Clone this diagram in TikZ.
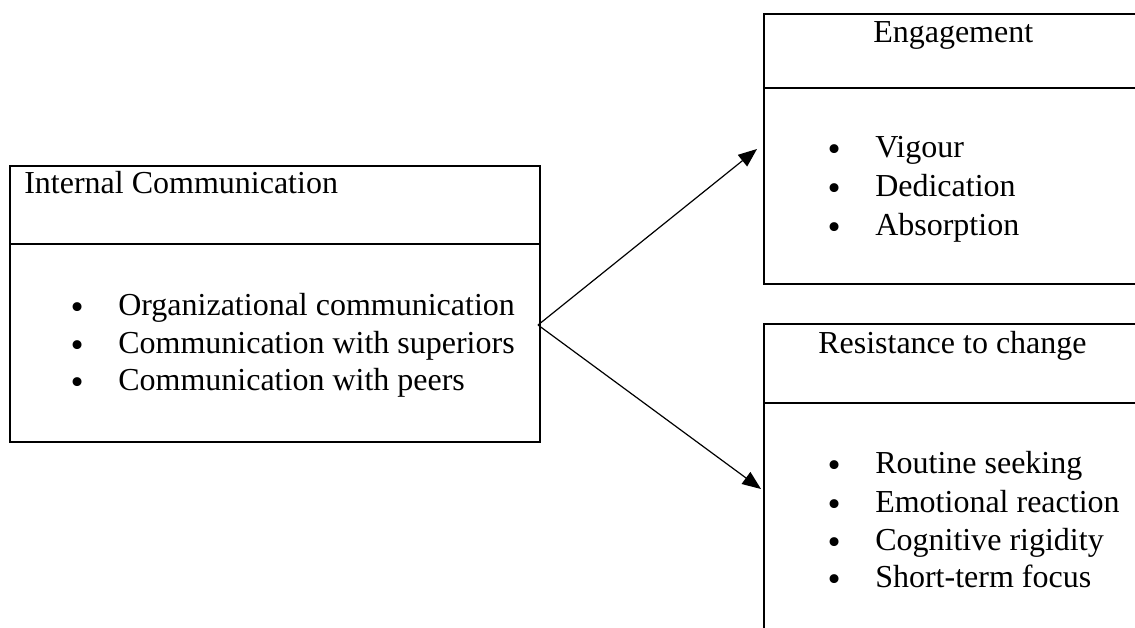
\documentclass[tikz,border=0pt]{standalone}
\usepackage{fontspec}
\setmainfont{Liberation Serif}
\newfontfamily\bulfont{DejaVu Sans}
\usetikzlibrary{arrows.meta}
\begin{document}
\begin{tikzpicture}[x=0.75pt,y=-0.75pt,
  txt/.style={anchor=base west,inner sep=0pt,font=\fontsize{24}{28}\selectfont},
  bul/.style={anchor=base,inner sep=0pt,font=\bulfont\fontsize{23}{26}\selectfont},
  boxline/.style={line width=1.6pt},
  conn/.style={line width=0.9pt,-{Triangle[length=14pt,width=11pt]}}]
\useasboundingbox (0,0) rectangle (1135,628);
\clip (0,0) rectangle (1135,628);
\fill[white] (0,0) rectangle (1135,628);
% boxes
\node[boxline,draw,anchor=north west,minimum width=397.5pt,minimum height=207pt,inner sep=0pt] (ic) at (9,165) {};
\node[boxline,draw,anchor=north west,minimum width=284.25pt,minimum height=202.5pt,inner sep=0pt] (eng) at (763,13) {};
\node[boxline,draw,anchor=north west,minimum width=284.25pt,minimum height=300pt,inner sep=0pt] (res) at (763,323) {};
% dividers
\draw[boxline] (ic.west |- 0,244) -- (ic.east |- 0,244);
\draw[boxline] (eng.west |- 0,88) -- (eng.east |- 0,88);
\draw[boxline] (res.west |- 0,403) -- (res.east |- 0,403);
% left box text
\node[txt] (ict) at (24,193) {Internal Communication};
\node[bul] (icb1) at (78,318) {•};
\node[bul] (icb2) at (78,356) {•};
\node[bul] (icb3) at (78,393) {•};
\node[txt] (ic1) at (118,315) {Organizational communication};
\node[txt] (ic2) at (118,353) {Communication with superiors};
\node[txt] (ic3) at (118,390) {Communication with peers};
% engagement text
\node[txt] (engt) at (873,42) {Engagement};
\node[bul] (engb1) at (835,160) {•};
\node[bul] (engb2) at (835,199) {•};
\node[bul] (engb3) at (835,238) {•};
\node[txt] (eng1) at (875,157) {Vigour};
\node[txt] (eng2) at (875,196) {Dedication};
\node[txt] (eng3) at (875,235) {Absorption};
% resistance text
\node[txt] (rest) at (818,353) {Resistance to change};
\node[bul] (resb1) at (835,476) {•};
\node[bul] (resb2) at (835,515) {•};
\node[bul] (resb3) at (835,553) {•};
\node[bul] (resb4) at (835,590) {•};
\node[txt] (res1) at (875,473) {Routine seeking};
\node[txt] (res2) at (875,512) {Emotional reaction};
\node[txt] (res3) at (875,550) {Cognitive rigidity};
\node[txt] (res4) at (875,587) {Short-term focus};
% connectors
\coordinate (src) at (538,325);
\coordinate (engin) at (757,149);
\coordinate (resin) at (761,489);
\draw[conn] (src) -- (engin);
\draw[conn] (src) -- (resin);
\end{tikzpicture}
\end{document}
